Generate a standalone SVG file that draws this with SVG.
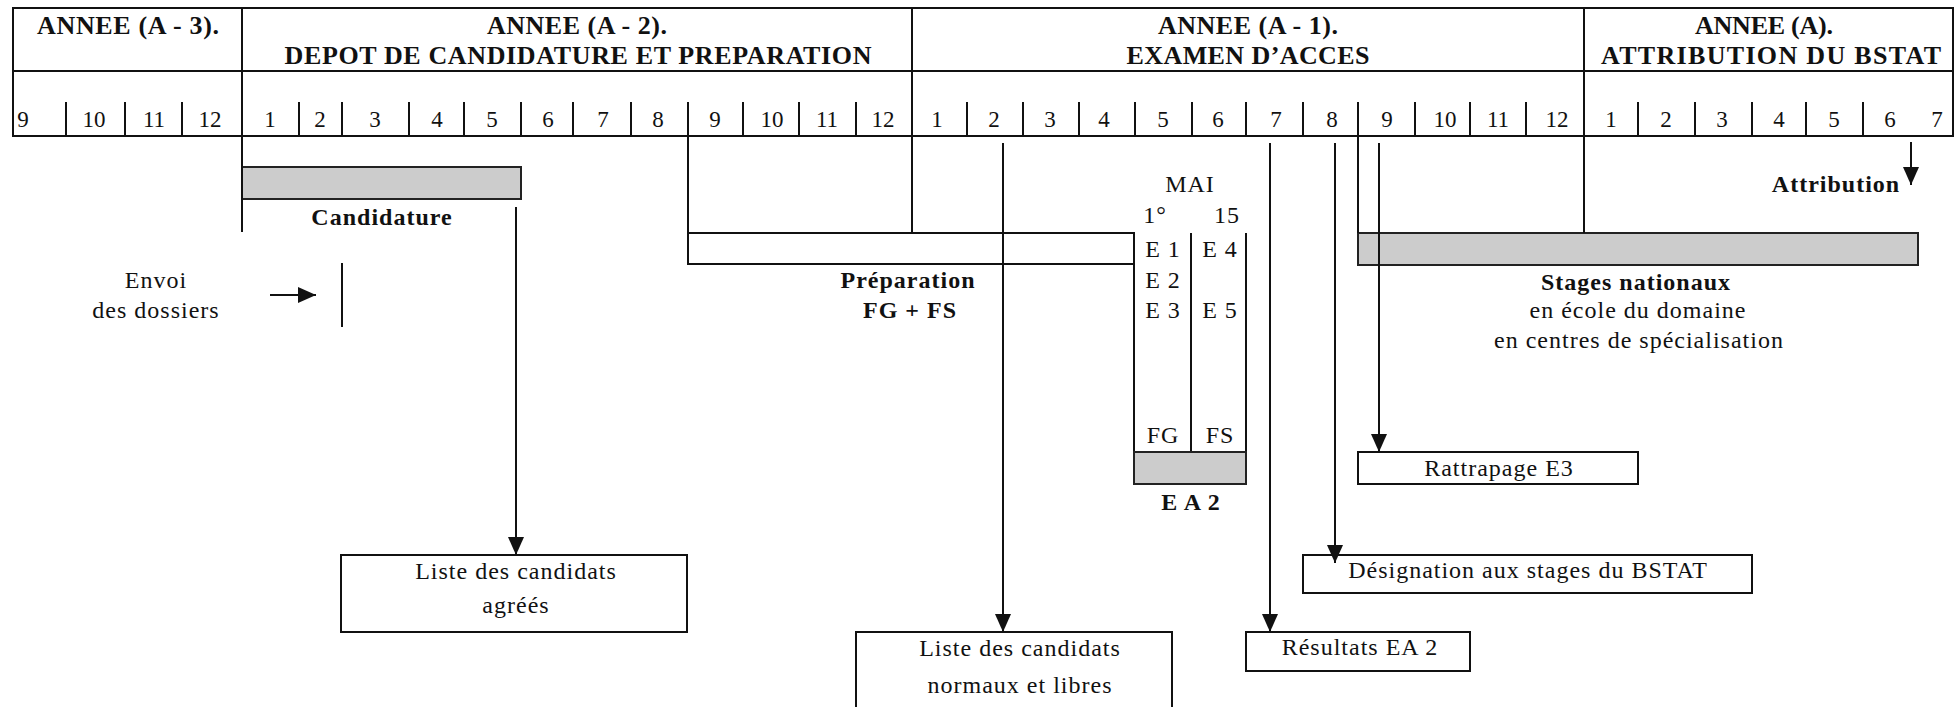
<svg xmlns="http://www.w3.org/2000/svg" width="1959" height="707" viewBox="0 0 1959 707">
<style>
.ln{stroke:#111;stroke-width:2;fill:none}
.box{fill:#fff;stroke:#111;stroke-width:2}
.bar{fill:#cccccc;stroke:#222;stroke-width:2}
text{font-family:"Liberation Serif","Times New Roman",serif;fill:#111}
.t{font-size:24px;letter-spacing:1px;text-anchor:middle}
.b{font-size:24px;font-weight:bold;letter-spacing:1px;text-anchor:middle}
.h{font-size:26px;font-weight:bold;text-anchor:middle}
.m{font-size:23px;text-anchor:middle}
</style>
<defs>
<marker id="ah" markerWidth="18" markerHeight="18" viewBox="0 0 18 18" refX="18" refY="9" orient="auto" markerUnits="userSpaceOnUse">
<path d="M0,1 L18,9 L0,17 z" fill="#111"/>
</marker>
</defs>
<rect width="1959" height="707" fill="#fff"/>

<g id="table">
<rect class="ln" x="13" y="8" width="1940" height="128"/>
<line class="ln" x1="13" y1="71" x2="1953" y2="71"/>
<line class="ln" x1="242" y1="8" x2="242" y2="136"/>
<line class="ln" x1="912" y1="8" x2="912" y2="136"/>
<line class="ln" x1="1584" y1="8" x2="1584" y2="136"/>
<text class="h" x="128" y="34" textLength="182" lengthAdjust="spacing">ANNEE (A - 3).</text>
<text class="h" x="577" y="34" textLength="180" lengthAdjust="spacing">ANNEE (A - 2).</text>
<text class="h" x="578" y="64" textLength="587" lengthAdjust="spacing">DEPOT DE CANDIDATURE ET PREPARATION</text>
<text class="h" x="1248" y="34" textLength="180" lengthAdjust="spacing">ANNEE (A - 1).</text>
<text class="h" x="1248" y="64" textLength="243" lengthAdjust="spacing">EXAMEN D’ACCES</text>
<text class="h" x="1764" y="34" textLength="138" lengthAdjust="spacing">ANNEE (A).</text>
<text class="h" x="1771" y="64" textLength="340" lengthAdjust="spacing">ATTRIBUTION DU BSTAT</text>
</g>

<g id="months">
<text class="m" x="23" y="127">9</text>
<text class="m" x="94" y="127">10</text>
<text class="m" x="154" y="127">11</text>
<text class="m" x="210" y="127">12</text>
<text class="m" x="270" y="127">1</text>
<text class="m" x="320" y="127">2</text>
<text class="m" x="375" y="127">3</text>
<text class="m" x="437" y="127">4</text>
<text class="m" x="492" y="127">5</text>
<text class="m" x="548" y="127">6</text>
<text class="m" x="603" y="127">7</text>
<text class="m" x="658" y="127">8</text>
<text class="m" x="715" y="127">9</text>
<text class="m" x="772" y="127">10</text>
<text class="m" x="827" y="127">11</text>
<text class="m" x="883" y="127">12</text>
<text class="m" x="937" y="127">1</text>
<text class="m" x="994" y="127">2</text>
<text class="m" x="1050" y="127">3</text>
<text class="m" x="1104" y="127">4</text>
<text class="m" x="1163" y="127">5</text>
<text class="m" x="1218" y="127">6</text>
<text class="m" x="1276" y="127">7</text>
<text class="m" x="1332" y="127">8</text>
<text class="m" x="1387" y="127">9</text>
<text class="m" x="1445" y="127">10</text>
<text class="m" x="1498" y="127">11</text>
<text class="m" x="1557" y="127">12</text>
<text class="m" x="1611" y="127">1</text>
<text class="m" x="1666" y="127">2</text>
<text class="m" x="1722" y="127">3</text>
<text class="m" x="1779" y="127">4</text>
<text class="m" x="1834" y="127">5</text>
<text class="m" x="1890" y="127">6</text>
<text class="m" x="1937" y="127">7</text>
<path class="ln" d="M66,102V136 M125,102V136 M182,102V136 M299,102V136 M342,102V136 M409,102V136 M464,102V136 M521,102V136 M573,102V136 M631,102V136 M743,102V136 M799,102V136 M856,102V136 M967,102V136 M1023,102V136 M1079,102V136 M1135,102V136 M1192,102V136 M1246,102V136 M1303,102V136 M1415,102V136 M1470,102V136 M1526,102V136 M1638,102V136 M1695,102V136 M1752,102V136 M1806,102V136 M1863,102V136"/>
</g>

<g id="candidature">
<rect class="bar" x="242" y="167" width="279" height="32"/>
<text class="b" x="382" y="225">Candidature</text>
</g>

<g id="envoi">
<text class="t" x="156" y="288">Envoi</text>
<text class="t" x="156" y="318">des dossiers</text>
</g>

<g id="preparation">
<rect class="box" x="688" y="233" width="446" height="31"/>
<text class="b" x="908" y="288">Préparation</text>
<text class="b" x="910" y="318">FG + FS</text>
</g>

<g id="ea2">
<text class="t" x="1190" y="192">MAI</text>
<text class="t" x="1155" y="223">1°</text>
<text class="t" x="1227" y="223">15</text>
<line class="ln" x1="1134" y1="233" x2="1134" y2="452"/>
<line class="ln" x1="1191" y1="233" x2="1191" y2="452"/>
<line class="ln" x1="1246" y1="233" x2="1246" y2="452"/>
<text class="t" x="1163" y="257">E 1</text>
<text class="t" x="1220" y="257">E 4</text>
<text class="t" x="1163" y="288">E 2</text>
<text class="t" x="1163" y="318">E 3</text>
<text class="t" x="1220" y="318">E 5</text>
<text class="t" x="1163" y="443">FG</text>
<text class="t" x="1220" y="443">FS</text>
<rect class="bar" x="1134" y="452" width="112" height="32"/>
<text class="b" x="1191" y="510">E A 2</text>
</g>

<g id="stages">
<rect class="bar" x="1358" y="233" width="560" height="32"/>
<text class="b" x="1636" y="290">Stages nationaux</text>
<text class="t" x="1638" y="318">en école du domaine</text>
<text class="t" x="1639" y="348">en centres de spécialisation</text>
</g>

<g id="attribution">
<text class="b" x="1836" y="192">Attribution</text>
</g>

<g id="liste-agrees">
<rect class="box" x="341" y="555" width="346" height="77"/>
<text class="t" x="516" y="579">Liste des candidats</text>
<text class="t" x="516" y="613">agréés</text>
</g>

<g id="liste-normaux">
<rect class="box" x="856" y="632" width="316" height="90"/>
<text class="t" x="1020" y="656">Liste des candidats</text>
<text class="t" x="1020" y="693">normaux et libres</text>
</g>

<g id="resultats">
<rect class="box" x="1246" y="632" width="224" height="39"/>
<text class="t" x="1360" y="655">Résultats EA 2</text>
</g>

<g id="designation">
<rect class="box" x="1303" y="555" width="449" height="38"/>
<text class="t" x="1528" y="578">Désignation aux stages du BSTAT</text>
</g>

<g id="rattrapage">
<rect class="box" x="1358" y="452" width="280" height="32"/>
<text class="t" x="1499" y="476">Rattrapage E3</text>
</g>

<g id="connectors">
<path class="ln" d="M242,136V232"/>
<path class="ln" d="M688,102V233"/>
<path class="ln" d="M912,136V233"/>
<path class="ln" d="M1358,102V233"/>
<path class="ln" d="M1584,136V233"/>
<path class="ln" d="M342,263V327"/>
<path class="ln" d="M270,295H316" marker-end="url(#ah)"/>
<path class="ln" d="M516,207V555" marker-end="url(#ah)"/>
<path class="ln" d="M1003,143V632" marker-end="url(#ah)"/>
<path class="ln" d="M1270,143V632" marker-end="url(#ah)"/>
<path class="ln" d="M1335,143V563" marker-end="url(#ah)"/>
<path class="ln" d="M1379,143V452" marker-end="url(#ah)"/>
<path class="ln" d="M1911,142V185" marker-end="url(#ah)"/>
</g>
</svg>
